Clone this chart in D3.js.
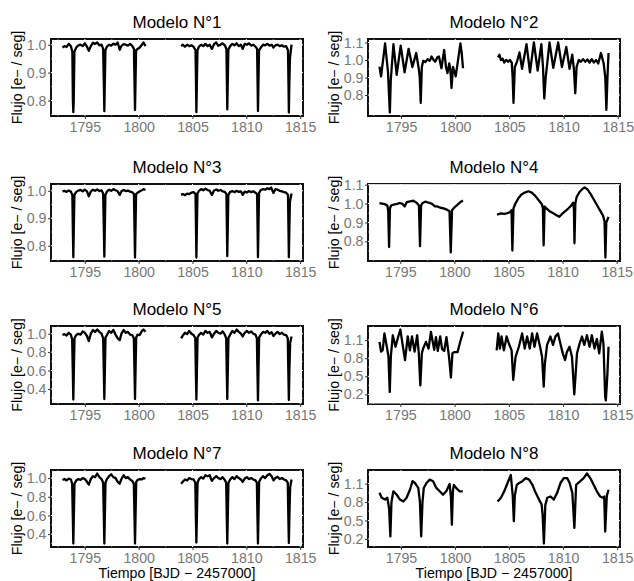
<!DOCTYPE html>
<html>
<head>
<meta charset="utf-8">
<script src="https://cdn.jsdelivr.net/npm/d3@7"></script>
<style>
  body { margin: 0; background: #fff; }
  text { font-family: "Liberation Sans", Arial, sans-serif; }
</style>
</head>
<body>
<div id="chart"></div>
<script>
// ---- data (time, flux); null = observing gap ----
var titles = ["Modelo N°1", "Modelo N°2", "Modelo N°3", "Modelo N°4",
              "Modelo N°5", "Modelo N°6", "Modelo N°7", "Modelo N°8"]

var xTicks = [1795, 1800, 1805, 1810, 1815]
var yTicksA = [0.8, 0.9, 1.0]          // modelos 1, 3
var yTicksB = [0.8, 0.9, 1.0, 1.1]     // modelos 2, 4
var yTicksC = [0.4, 0.6, 0.8, 1.0]     // modelos 5, 7
var yTicksD = [0.2, 0.5, 0.8, 1.1]     // modelos 6, 8

var modelo1 = [[1792.92,0.990],[1793.10,0.995],[1793.30,0.992],[1793.50,1.003],[1793.70,0.995],[1793.84,0.975],[1793.89,0.80],[1793.93,0.758],[1793.97,0.80],[1794.03,0.975],[1794.20,0.990],[1794.40,0.998],[1794.60,1.000],[1794.80,0.995],[1795.00,1.005],[1795.20,0.993],[1795.37,0.978],[1795.55,0.995],[1795.75,1.007],[1795.95,1.003],[1796.15,1.008],[1796.35,0.998],[1796.55,1.000],[1796.70,0.985],[1796.77,0.85],[1796.81,0.762],[1796.85,0.85],[1796.91,0.980],[1797.05,0.993],[1797.25,1.000],[1797.45,0.997],[1797.65,1.004],[1797.85,1.000],[1798.05,1.008],[1798.24,0.982],[1798.40,0.996],[1798.60,1.002],[1798.80,1.000],[1799.00,0.997],[1799.20,1.003],[1799.40,0.996],[1799.56,0.985],[1799.62,0.85],[1799.66,0.766],[1799.70,0.85],[1799.76,0.980],[1799.90,0.985],[1800.10,0.990],[1800.30,1.000],[1800.45,1.008],[1800.63,0.995],
  null,
  [1803.94,0.995],[1804.10,1.000],[1804.30,0.993],[1804.50,1.000],[1804.70,0.995],[1804.90,0.998],[1805.10,0.993],[1805.28,0.980],[1805.33,0.85],[1805.36,0.758],[1805.40,0.85],[1805.46,0.980],[1805.60,0.993],[1805.80,1.000],[1806.00,0.995],[1806.20,1.003],[1806.40,0.995],[1806.60,1.000],[1806.80,0.985],[1807.00,1.002],[1807.20,1.008],[1807.40,0.996],[1807.60,1.000],[1807.80,1.005],[1808.00,0.998],[1808.15,0.985],[1808.20,0.85],[1808.23,0.768],[1808.27,0.85],[1808.33,0.982],[1808.50,0.995],[1808.70,1.003],[1808.90,0.998],[1809.10,1.005],[1809.30,0.995],[1809.50,1.000],[1809.66,0.985],[1809.85,1.003],[1810.05,1.000],[1810.25,1.005],[1810.45,0.997],[1810.65,1.000],[1810.85,0.993],[1811.00,0.985],[1811.05,0.85],[1811.08,0.762],[1811.12,0.85],[1811.18,0.980],[1811.35,0.990],[1811.55,1.000],[1811.75,0.998],[1811.95,1.003],[1812.15,0.997],[1812.35,1.000],[1812.52,0.990],[1812.70,0.998],[1812.90,1.000],[1813.10,0.995],[1813.30,0.998],[1813.50,0.993],[1813.70,0.995],[1813.87,0.980],[1813.92,0.85],[1813.95,0.757],[1813.99,0.85],[1814.05,0.950],[1814.20,1.000]]

var modelo2 = [[1793.01,0.962],[1793.16,0.906],[1793.53,1.095],[1793.80,0.930],[1793.90,0.790],[1793.97,0.700],[1794.05,0.880],[1794.30,1.090],[1794.60,0.915],[1794.97,1.082],[1795.33,0.930],[1795.70,1.064],[1796.05,0.960],[1796.40,1.040],[1796.65,0.945],[1796.73,0.900],[1796.82,0.755],[1796.92,0.960],[1797.05,0.995],[1797.25,0.988],[1797.45,1.005],[1797.65,0.995],[1797.82,1.020],[1798.00,1.000],[1798.15,0.990],[1798.35,1.015],[1798.50,1.020],[1798.73,0.953],[1798.98,1.057],[1799.15,0.960],[1799.29,0.925],[1799.45,0.980],[1799.55,0.950],[1799.66,0.840],[1799.80,0.960],[1799.90,0.940],[1800.05,0.906],[1800.48,1.095],[1800.60,1.040],[1800.72,0.953],
  null,
  [1803.94,1.015],[1804.08,1.030],[1804.22,1.000],[1804.38,1.008],[1804.52,0.985],[1804.70,1.000],[1804.90,0.990],[1805.05,1.000],[1805.22,0.985],[1805.30,0.900],[1805.38,0.755],[1805.50,0.960],[1805.70,0.990],[1805.93,1.043],[1806.17,0.950],[1806.58,1.090],[1806.90,0.930],[1807.26,1.100],[1807.61,0.940],[1807.95,1.090],[1808.10,0.960],[1808.22,0.780],[1808.35,0.900],[1808.70,1.100],[1809.05,0.955],[1809.50,1.100],[1809.85,0.960],[1810.25,1.075],[1810.55,0.950],[1810.80,1.030],[1810.95,0.950],[1811.08,0.810],[1811.20,0.960],[1811.40,1.000],[1811.60,0.990],[1811.80,1.005],[1812.00,0.990],[1812.20,1.003],[1812.40,0.985],[1812.60,1.005],[1812.80,0.985],[1813.00,1.000],[1813.20,0.980],[1813.45,1.040],[1813.70,0.980],[1813.85,0.900],[1813.95,0.715],[1814.05,0.900],[1814.15,1.040]]

var modelo3 = [[1792.92,0.998],[1793.10,1.000],[1793.30,0.996],[1793.50,1.001],[1793.70,0.997],[1793.84,0.985],[1793.89,0.85],[1793.93,0.758],[1793.97,0.85],[1794.03,0.985],[1794.20,0.996],[1794.40,1.001],[1794.60,1.003],[1794.80,0.998],[1795.00,1.004],[1795.20,0.998],[1795.37,0.980],[1795.55,0.997],[1795.75,1.004],[1795.95,1.000],[1796.15,1.005],[1796.35,0.999],[1796.55,1.002],[1796.70,0.990],[1796.77,0.85],[1796.81,0.760],[1796.85,0.85],[1796.91,0.985],[1797.05,0.997],[1797.25,1.004],[1797.45,1.000],[1797.65,1.006],[1797.85,1.002],[1798.05,0.998],[1798.24,0.985],[1798.40,0.998],[1798.60,1.003],[1798.80,0.999],[1799.00,1.001],[1799.20,0.997],[1799.40,0.995],[1799.56,0.988],[1799.62,0.85],[1799.66,0.757],[1799.70,0.85],[1799.76,0.988],[1799.90,0.993],[1800.10,0.998],[1800.30,1.002],[1800.45,1.006],[1800.63,1.003],
  null,
  [1803.94,0.985],[1804.10,0.988],[1804.30,0.984],[1804.50,0.990],[1804.70,0.988],[1804.90,0.993],[1805.10,0.995],[1805.28,0.988],[1805.33,0.85],[1805.36,0.757],[1805.40,0.85],[1805.46,0.990],[1805.60,1.000],[1805.80,1.006],[1806.00,1.002],[1806.20,1.008],[1806.40,1.003],[1806.60,1.000],[1806.80,0.985],[1807.00,1.001],[1807.20,1.005],[1807.40,1.000],[1807.60,1.003],[1807.80,0.998],[1808.00,0.996],[1808.15,0.988],[1808.20,0.85],[1808.23,0.762],[1808.27,0.85],[1808.33,0.985],[1808.50,0.996],[1808.70,0.999],[1808.90,0.995],[1809.10,1.000],[1809.30,0.996],[1809.50,0.998],[1809.66,0.985],[1809.85,0.997],[1810.05,0.994],[1810.25,0.999],[1810.45,0.995],[1810.65,0.998],[1810.85,0.993],[1811.00,0.988],[1811.05,0.85],[1811.08,0.758],[1811.12,0.85],[1811.18,0.992],[1811.35,1.003],[1811.55,1.006],[1811.75,1.004],[1811.95,1.009],[1812.15,1.006],[1812.30,1.012],[1812.52,0.992],[1812.70,1.006],[1812.90,1.004],[1813.10,1.000],[1813.30,0.998],[1813.50,0.995],[1813.70,0.993],[1813.87,0.985],[1813.92,0.85],[1813.95,0.758],[1813.99,0.85],[1814.05,0.960],[1814.20,0.990]]

var modelo4 = [[1793.07,1.003],[1793.30,1.000],[1793.55,0.997],[1793.80,0.990],[1793.88,0.960],[1793.96,0.770],[1794.04,0.975],[1794.15,0.990],[1794.40,0.995],[1794.70,0.998],[1794.95,1.003],[1795.20,0.998],[1795.40,0.985],[1795.60,1.008],[1795.90,1.012],[1796.20,1.015],[1796.50,1.005],[1796.72,0.990],[1796.82,0.775],[1796.92,0.990],[1797.05,1.003],[1797.30,1.010],[1797.60,1.005],[1797.90,1.000],[1798.20,0.985],[1798.40,0.985],[1798.70,0.978],[1799.00,0.975],[1799.30,0.968],[1799.55,0.960],[1799.66,0.742],[1799.78,0.965],[1800.00,0.980],[1800.30,0.995],[1800.60,1.010],[1800.79,1.016],
  null,
  [1803.94,0.942],[1804.30,0.948],[1804.60,0.945],[1804.90,0.950],[1805.15,0.955],[1805.28,0.965],[1805.36,0.752],[1805.46,0.975],[1805.62,0.998],[1805.93,1.030],[1806.20,1.048],[1806.50,1.058],[1806.85,1.065],[1807.15,1.058],[1807.40,1.045],[1807.65,1.028],[1807.90,1.010],[1808.10,0.995],[1808.18,0.975],[1808.25,0.779],[1808.34,0.985],[1808.50,0.975],[1808.80,0.960],[1809.10,0.950],[1809.40,0.940],[1809.70,0.930],[1809.95,0.945],[1810.25,0.960],[1810.55,0.975],[1810.80,0.990],[1810.98,1.005],[1811.05,0.970],[1811.10,0.790],[1811.18,1.000],[1811.30,1.035],[1811.55,1.060],[1811.85,1.078],[1812.05,1.085],[1812.30,1.075],[1812.60,1.050],[1812.90,1.020],[1813.20,0.990],[1813.50,0.960],[1813.75,0.935],[1813.88,0.905],[1813.96,0.715],[1814.04,0.900],[1814.15,0.915],[1814.25,0.930]]

var modelo5 = [[1792.92,0.985],[1793.10,0.995],[1793.30,0.980],[1793.50,1.010],[1793.70,0.990],[1793.82,0.940],[1793.88,0.60],[1793.93,0.285],[1793.98,0.60],[1794.04,0.950],[1794.20,0.985],[1794.40,1.000],[1794.60,0.990],[1794.80,1.025],[1795.00,1.010],[1795.20,0.975],[1795.37,0.920],[1795.55,1.000],[1795.75,1.040],[1795.95,1.020],[1796.15,1.045],[1796.35,1.020],[1796.55,1.000],[1796.70,0.950],[1796.76,0.60],[1796.81,0.290],[1796.86,0.60],[1796.92,0.960],[1797.05,0.985],[1797.25,1.030],[1797.45,1.010],[1797.65,1.040],[1797.85,0.990],[1798.05,0.950],[1798.24,0.930],[1798.40,1.000],[1798.60,1.040],[1798.80,1.010],[1799.00,1.020],[1799.20,0.990],[1799.40,0.985],[1799.55,0.950],[1799.61,0.60],[1799.66,0.290],[1799.71,0.60],[1799.77,0.960],[1799.90,0.990],[1800.10,0.985],[1800.30,1.030],[1800.45,1.045],[1800.63,1.020],
  null,
  [1803.94,0.950],[1804.10,0.980],[1804.30,1.010],[1804.50,0.995],[1804.70,1.030],[1804.90,1.000],[1805.10,0.985],[1805.26,0.950],[1805.31,0.60],[1805.36,0.285],[1805.41,0.60],[1805.47,0.960],[1805.60,0.985],[1805.80,1.010],[1806.00,0.990],[1806.20,1.030],[1806.40,1.010],[1806.60,1.020],[1806.80,0.960],[1807.00,1.000],[1807.20,1.030],[1807.40,1.010],[1807.60,1.000],[1807.80,1.025],[1808.00,0.990],[1808.13,0.950],[1808.18,0.60],[1808.23,0.290],[1808.28,0.60],[1808.34,0.955],[1808.50,0.990],[1808.70,1.030],[1808.90,1.010],[1809.10,1.045],[1809.30,1.020],[1809.50,1.000],[1809.66,0.970],[1809.85,1.010],[1810.05,1.030],[1810.25,1.010],[1810.45,1.025],[1810.65,1.000],[1810.85,0.990],[1810.98,0.950],[1811.03,0.60],[1811.08,0.275],[1811.13,0.60],[1811.19,0.960],[1811.35,0.990],[1811.55,1.020],[1811.75,1.010],[1811.95,1.030],[1812.15,1.000],[1812.35,1.015],[1812.52,0.975],[1812.70,1.000],[1812.90,1.020],[1813.10,0.995],[1813.30,1.010],[1813.50,0.990],[1813.70,0.985],[1813.85,0.950],[1813.90,0.60],[1813.95,0.280],[1814.00,0.60],[1814.07,0.900],[1814.20,0.970]]

var modelo6 = [[1793.07,1.070],[1793.22,0.910],[1793.37,0.935],[1793.53,1.210],[1793.75,0.990],[1793.90,0.830],[1794.02,0.240],[1794.12,0.830],[1794.30,1.180],[1794.55,0.990],[1794.76,1.130],[1795.00,1.275],[1795.21,1.020],[1795.43,0.770],[1795.68,1.160],[1795.88,0.930],[1796.07,1.160],[1796.31,0.910],[1796.55,1.180],[1796.70,0.880],[1796.84,0.350],[1796.98,0.880],[1797.10,0.960],[1797.36,1.070],[1797.60,0.960],[1797.82,1.235],[1798.12,0.940],[1798.28,1.150],[1798.45,0.920],[1798.67,1.160],[1798.85,0.950],[1799.04,0.920],[1799.25,1.150],[1799.50,0.800],[1799.66,0.480],[1799.80,0.880],[1799.95,0.900],[1800.27,0.900],[1800.50,1.060],[1800.79,1.240],
  null,
  [1803.88,0.930],[1804.03,1.210],[1804.18,0.960],[1804.33,1.160],[1804.55,0.930],[1804.80,1.160],[1805.01,1.040],[1805.26,0.930],[1805.41,0.440],[1805.62,0.820],[1805.93,0.990],[1806.23,1.210],[1806.47,0.960],[1806.69,1.160],[1806.93,0.960],[1807.15,1.210],[1807.37,0.990],[1807.61,1.210],[1807.92,0.960],[1808.07,0.820],[1808.22,0.330],[1808.32,0.700],[1808.53,1.020],[1808.84,1.160],[1809.08,1.020],[1809.30,1.160],[1809.54,1.210],[1809.76,1.040],[1809.98,0.880],[1810.19,0.770],[1810.35,0.900],[1810.60,0.990],[1810.83,0.820],[1811.04,0.200],[1811.29,0.880],[1811.53,1.040],[1811.75,1.160],[1811.96,1.020],[1812.21,1.180],[1812.45,0.990],[1812.66,1.180],[1812.91,0.960],[1813.12,1.120],[1813.34,0.880],[1813.58,1.240],[1813.73,1.040],[1813.89,0.160],[1813.95,0.100],[1814.10,0.550],[1814.20,0.990]]

var modelo7 = [[1792.92,0.980],[1793.10,0.990],[1793.30,0.975],[1793.50,0.995],[1793.70,0.985],[1793.82,0.940],[1793.88,0.60],[1793.93,0.300],[1793.98,0.60],[1794.04,0.940],[1794.20,0.975],[1794.40,0.990],[1794.60,0.980],[1794.80,1.000],[1795.00,0.990],[1795.20,0.960],[1795.37,0.930],[1795.55,0.990],[1795.75,1.020],[1795.95,1.010],[1796.15,1.049],[1796.35,1.010],[1796.55,0.990],[1796.70,0.950],[1796.76,0.60],[1796.81,0.300],[1796.86,0.60],[1796.92,0.950],[1797.05,0.990],[1797.25,1.020],[1797.45,1.040],[1797.65,1.010],[1797.85,1.000],[1798.05,0.960],[1798.24,0.940],[1798.40,0.990],[1798.60,1.030],[1798.80,1.000],[1799.00,1.010],[1799.20,0.985],[1799.40,0.970],[1799.55,0.940],[1799.61,0.60],[1799.66,0.300],[1799.71,0.60],[1799.77,0.960],[1799.90,0.980],[1800.10,0.990],[1800.30,0.985],[1800.45,1.000],[1800.63,0.995],
  null,
  [1803.94,0.940],[1804.10,0.960],[1804.30,0.985],[1804.50,0.975],[1804.70,1.000],[1804.90,0.990],[1805.10,0.985],[1805.26,0.950],[1805.31,0.60],[1805.36,0.310],[1805.41,0.60],[1805.47,0.950],[1805.60,0.990],[1805.80,1.010],[1806.00,0.995],[1806.20,1.030],[1806.40,1.020],[1806.60,1.030],[1806.80,0.970],[1807.00,1.000],[1807.20,1.020],[1807.40,1.000],[1807.60,0.990],[1807.80,1.010],[1808.00,0.980],[1808.13,0.950],[1808.18,0.60],[1808.23,0.300],[1808.28,0.60],[1808.34,0.950],[1808.50,0.985],[1808.70,1.010],[1808.90,0.990],[1809.10,1.020],[1809.30,1.000],[1809.50,0.985],[1809.66,0.960],[1809.85,0.995],[1810.05,1.010],[1810.25,0.990],[1810.45,1.000],[1810.65,0.985],[1810.85,0.975],[1810.98,0.950],[1811.03,0.60],[1811.08,0.300],[1811.13,0.60],[1811.19,0.960],[1811.35,0.995],[1811.55,1.020],[1811.75,1.000],[1811.95,1.030],[1812.15,1.045],[1812.35,1.020],[1812.52,0.975],[1812.70,1.000],[1812.90,1.015],[1813.10,0.990],[1813.30,1.000],[1813.50,0.985],[1813.70,0.975],[1813.85,0.950],[1813.90,0.60],[1813.95,0.305],[1814.00,0.60],[1814.07,0.900],[1814.20,0.985]]

var modelo8 = [[1793.01,0.950],[1793.22,0.870],[1793.53,0.840],[1793.74,0.870],[1793.90,0.700],[1794.02,0.240],[1794.12,0.800],[1794.30,0.975],[1794.60,0.920],[1794.91,0.840],[1795.22,0.810],[1795.52,0.870],[1795.83,1.000],[1796.07,1.140],[1796.29,1.110],[1796.60,1.030],[1796.75,0.810],[1796.87,0.240],[1796.99,0.800],[1797.11,1.030],[1797.36,1.110],[1797.66,1.165],[1797.97,1.140],[1798.27,1.030],[1798.58,0.975],[1798.89,0.920],[1799.19,0.975],[1799.50,1.095],[1799.62,0.880],[1799.71,0.430],[1799.80,0.975],[1799.89,1.080],[1800.10,1.030],[1800.41,0.975],[1800.72,0.975],
  null,
  [1803.94,0.810],[1804.25,0.870],[1804.55,0.975],[1804.86,1.110],[1805.16,1.240],[1805.34,0.900],[1805.44,0.490],[1805.53,0.900],[1805.71,1.080],[1805.93,1.110],[1806.24,1.140],[1806.54,1.190],[1806.85,1.165],[1807.16,1.080],[1807.46,0.950],[1807.77,0.840],[1808.01,0.760],[1808.10,0.600],[1808.22,0.125],[1808.35,0.750],[1808.53,0.870],[1808.84,0.890],[1809.14,0.840],[1809.45,0.950],[1809.75,1.110],[1810.06,1.190],[1810.37,1.190],[1810.60,1.110],[1810.85,0.950],[1811.04,0.380],[1811.20,1.080],[1811.59,1.140],[1811.90,1.190],[1812.20,1.265],[1812.51,1.190],[1812.82,1.080],[1813.12,0.975],[1813.43,0.890],[1813.67,0.870],[1813.80,0.890],[1813.89,0.320],[1814.04,0.900],[1814.20,1.000]]

var series = [modelo1, modelo2, modelo3, modelo4, modelo5, modelo6, modelo7, modelo8]
var yTicks = [yTicksA, yTicksB, yTicksA, yTicksB, yTicksC, yTicksD, yTicksC, yTicksD]

// ---- layout ----
var W = 634, H = 581
var colLeft = [51, 368], colRight = [303, 620]
var rowTop = [39, 184, 326, 470], rowBottom = [116, 261, 404, 547]
var yTitleX = [22, 339]

var svg = d3.select("#chart").append("svg")
    .attr("width", W).attr("height", H)
svg.append("rect").attr("width", W).attr("height", H).attr("fill", "#fff")

// ggplot-like 5% expansion around the data
function expand(ext) {
    var pad = (ext[1] - ext[0]) * 0.05
    return [ext[0] - pad, ext[1] + pad]
}

function midpoints(ticks, dom) {
    var step = ticks[1] - ticks[0]
    var out = []
    var m = ticks[0] - step / 2
    while (m < dom[1]) {
        if (m > dom[0]) out.push(m)
        m += step
    }
    return out
}

series.forEach(function(data, i) {
    var col = i % 2, row = Math.floor(i / 2)
    var left = colLeft[col], right = colRight[col]
    var top = rowTop[row], bottom = rowBottom[row]
    var pts = data.filter(function(d) { return d !== null })

    var x = d3.scaleLinear()
        .domain(expand(d3.extent(pts, function(d) { return d[0] })))
        .range([left, right])
    var y = d3.scaleLinear()
        .domain(expand(d3.extent(pts, function(d) { return d[1] })))
        .range([bottom, top])

    var g = svg.append("g")

    // panel background with dark outline
    g.append("rect")
        .attr("x", left).attr("y", top)
        .attr("width", right - left).attr("height", bottom - top)
        .attr("fill", "#fff").attr("stroke", "#111").attr("stroke-width", 2)

    // white grid lines (only visible where they cut the outline)
    var xMinor = midpoints(xTicks, x.domain())
    var yMinor = midpoints(yTicks[i], y.domain())
    g.selectAll(".gx").data(xTicks.concat(xMinor)).enter().append("line")
        .attr("x1", function(d) { return x(d) }).attr("x2", function(d) { return x(d) })
        .attr("y1", top).attr("y2", bottom)
        .attr("stroke", "#fff")
        .attr("stroke-width", function(d) { return xTicks.indexOf(d) >= 0 ? 1 : 0.5 })
    g.selectAll(".gy").data(yTicks[i].concat(yMinor)).enter().append("line")
        .attr("y1", function(d) { return y(d) }).attr("y2", function(d) { return y(d) })
        .attr("x1", left).attr("x2", right)
        .attr("stroke", "#fff")
        .attr("stroke-width", function(d) { return yTicks[i].indexOf(d) >= 0 ? 1 : 0.5 })

    // light curve
    var line = d3.line()
        .defined(function(d) { return d !== null })
        .x(function(d) { return x(d[0]) })
        .y(function(d) { return y(d[1]) })
    g.append("path")
        .datum(data)
        .attr("d", line)
        .attr("fill", "none")
        .attr("stroke", "#000")
        .attr("stroke-width", 2.3)
        .attr("stroke-linejoin", "round")

    // axes
    var xAxis = g.append("g")
        .attr("transform", "translate(0," + bottom + ")")
        .call(d3.axisBottom(x).tickValues(xTicks).tickSize(3).tickPadding(3).tickFormat(d3.format("d")))
    var yAxis = g.append("g")
        .attr("transform", "translate(" + left + ",0)")
        .call(d3.axisLeft(y).tickValues(yTicks[i]).tickSize(3).tickPadding(1.5).tickFormat(d3.format(".1f")))
    ;[xAxis, yAxis].forEach(function(a) {
        a.select(".domain").remove()
        a.selectAll(".tick line").attr("stroke", "#333")
        a.selectAll("text")
            .attr("fill", "#777")
            .style("font-size", "14.2px")
            .style("font-family", "'Liberation Sans', Arial, sans-serif")
    })

    // panel title
    g.append("text")
        .attr("x", (left + right) / 2).attr("y", top - 10.7)
        .attr("text-anchor", "middle")
        .style("font-size", "17px")
        .attr("fill", "#000")
        .text(titles[i])

    // y axis title
    g.append("text")
        .attr("transform", "translate(" + yTitleX[col] + "," + (top + bottom) / 2 + ") rotate(-90)")
        .attr("text-anchor", "middle")
        .style("font-size", "14.2px")
        .attr("fill", "#000")
        .text("Flujo [e\u2212 / seg]")

    // x axis title only on the last row
    if (row === 3) {
        g.append("text")
            .attr("x", (left + right) / 2).attr("y", 578)
            .attr("text-anchor", "middle")
            .style("font-size", "14.2px")
            .attr("fill", "#000")
            .text("Tiempo [BJD \u2212 2457000]")
    }
})
</script>
</body>
</html>
